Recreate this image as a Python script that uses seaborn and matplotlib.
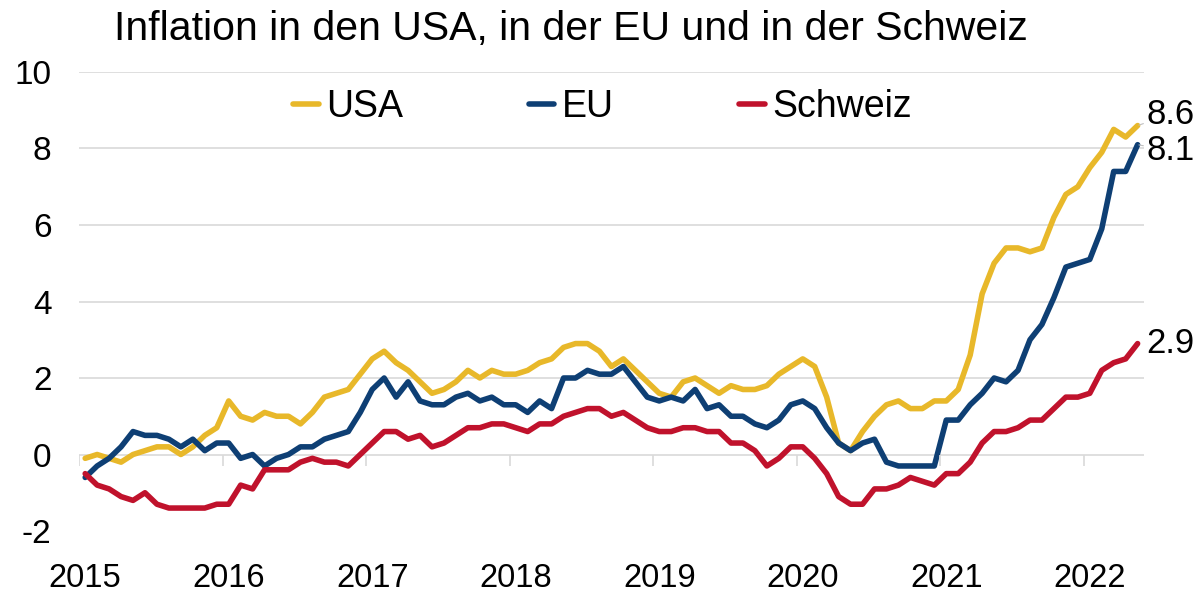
import numpy as np
import pandas as pd
import matplotlib
matplotlib.use("Agg")
import matplotlib.pyplot as plt
import seaborn as sns

# Monatliche Inflationsraten (%), Jan 2015 - Mai 2022
usa = [
    -0.1, 0.0, -0.1, -0.2, 0.0, 0.1, 0.2, 0.2, 0.0, 0.2, 0.5, 0.7,
    1.4, 1.0, 0.9, 1.1, 1.0, 1.0, 0.8, 1.1, 1.5, 1.6, 1.7, 2.1,
    2.5, 2.7, 2.4, 2.2, 1.9, 1.6, 1.7, 1.9, 2.2, 2.0, 2.2, 2.1,
    2.1, 2.2, 2.4, 2.5, 2.8, 2.9, 2.9, 2.7, 2.3, 2.5, 2.2, 1.9,
    1.6, 1.5, 1.9, 2.0, 1.8, 1.6, 1.8, 1.7, 1.7, 1.8, 2.1, 2.3,
    2.5, 2.3, 1.5, 0.3, 0.1, 0.6, 1.0, 1.3, 1.4, 1.2, 1.2, 1.4,
    1.4, 1.7, 2.6, 4.2, 5.0, 5.4, 5.4, 5.3, 5.4, 6.2, 6.8, 7.0,
    7.5, 7.9, 8.5, 8.3, 8.6,
]
eu = [
    -0.6, -0.3, -0.1, 0.2, 0.6, 0.5, 0.5, 0.4, 0.2, 0.4, 0.1, 0.3,
    0.3, -0.1, 0.0, -0.3, -0.1, 0.0, 0.2, 0.2, 0.4, 0.5, 0.6, 1.1,
    1.7, 2.0, 1.5, 1.9, 1.4, 1.3, 1.3, 1.5, 1.6, 1.4, 1.5, 1.3,
    1.3, 1.1, 1.4, 1.2, 2.0, 2.0, 2.2, 2.1, 2.1, 2.3, 1.9, 1.5,
    1.4, 1.5, 1.4, 1.7, 1.2, 1.3, 1.0, 1.0, 0.8, 0.7, 0.9, 1.3,
    1.4, 1.2, 0.7, 0.3, 0.1, 0.3, 0.4, -0.2, -0.3, -0.3, -0.3, -0.3,
    0.9, 0.9, 1.3, 1.6, 2.0, 1.9, 2.2, 3.0, 3.4, 4.1, 4.9, 5.0,
    5.1, 5.9, 7.4, 7.4, 8.1,
]
schweiz = [
    -0.5, -0.8, -0.9, -1.1, -1.2, -1.0, -1.3, -1.4, -1.4, -1.4, -1.4, -1.3,
    -1.3, -0.8, -0.9, -0.4, -0.4, -0.4, -0.2, -0.1, -0.2, -0.2, -0.3, 0.0,
    0.3, 0.6, 0.6, 0.4, 0.5, 0.2, 0.3, 0.5, 0.7, 0.7, 0.8, 0.8,
    0.7, 0.6, 0.8, 0.8, 1.0, 1.1, 1.2, 1.2, 1.0, 1.1, 0.9, 0.7,
    0.6, 0.6, 0.7, 0.7, 0.6, 0.6, 0.3, 0.3, 0.1, -0.3, -0.1, 0.2,
    0.2, -0.1, -0.5, -1.1, -1.3, -1.3, -0.9, -0.9, -0.8, -0.6, -0.7, -0.8,
    -0.5, -0.5, -0.2, 0.3, 0.6, 0.6, 0.7, 0.9, 0.9, 1.2, 1.5, 1.5,
    1.6, 2.2, 2.4, 2.5, 2.9,
]
years = ["2015", "2016", "2017", "2018", "2019", "2020", "2021", "2022"]
series_names = ["USA", "EU", "Schweiz"]
colors = {"USA": "#E8B82A", "EU": "#0E3F74", "Schweiz": "#C0122C"}

month = np.arange(len(usa))
df = pd.DataFrame({
    "monat": np.tile(month, 3),
    "wert": usa + eu + schweiz,
    "land": np.repeat(series_names, len(usa)),
})

sns.set_theme(style="white")
plt.rcParams["font.family"] = ["Liberation Sans", "DejaVu Sans"]
plt.rcParams["axes.unicode_minus"] = False
plt.rcParams["text.color"] = "black"
plt.rcParams["xtick.color"] = "black"
plt.rcParams["ytick.color"] = "black"

fig = plt.figure(figsize=(12, 6.03), dpi=100)
ax = fig.add_axes([0.066, 0.1194, 0.887, 0.7612])

sns.lineplot(data=df, x="monat", y="wert", hue="land", hue_order=series_names,
             palette=colors, linewidth=4, ax=ax)

ax.set_xlim(-0.5, len(usa) - 0.5)
ax.set_ylim(-2, 10)
ax.set_yticks(range(-2, 11, 2))
ax.grid(axis="y", color="#d9d9d9", linewidth=1.2)
ax.yaxis.get_gridlines()[0].set_visible(False)
ax.set_axisbelow(True)
for s in ax.spines.values():
    s.set_visible(False)

ax.set_xticks(np.arange(len(years)) * 12)
ax.set_xticklabels(years)
ax.tick_params(axis="x", length=0, pad=23, labelsize=23.5, labelcolor="black")
ax.tick_params(axis="y", length=0, pad=20, labelsize=24, labelcolor="black")
ax.set_xlabel("")
ax.set_ylabel("")

# kleine Striche an den Jahresgrenzen auf der Nulllinie
ax.vlines(np.arange(len(years)) * 12 - 0.5, -0.3, 0, color="#d9d9d9", linewidth=1.2)

# Legende
handles, labels = ax.get_legend_handles_labels()
ax.legend(handles, labels, loc="center left", bbox_to_anchor=(293 / 1200, 1 - 107 / 603),
          bbox_transform=fig.transFigure, ncol=3, frameon=False, fontsize=27,
          handlelength=0.68, handletextpad=0.2, columnspacing=3.35,
          borderpad=0, borderaxespad=0)

# Endwerte
last = len(usa) - 1
label_offsets = {"USA": 8, "EU": -4.5, "Schweiz": 0}
for name, vals in zip(series_names, [usa, eu, schweiz]):
    arrow = None
    if name != "Schweiz":
        arrow = dict(arrowstyle="-", color="#bfbfbf", lw=0.8, shrinkA=0, shrinkB=1)
    ax.annotate(f"{vals[-1]:.1f}", xy=(last, vals[-1]), xytext=(6.5, label_offsets[name]),
                textcoords="offset points", ha="left", va="center", fontsize=25,
                annotation_clip=False, arrowprops=arrow)

fig.text(0.476, 1 - 29 / 603, "Inflation in den USA, in der EU und in der Schweiz",
         ha="center", va="center", fontsize=29.5)

fig.savefig("out.png", dpi=100)
